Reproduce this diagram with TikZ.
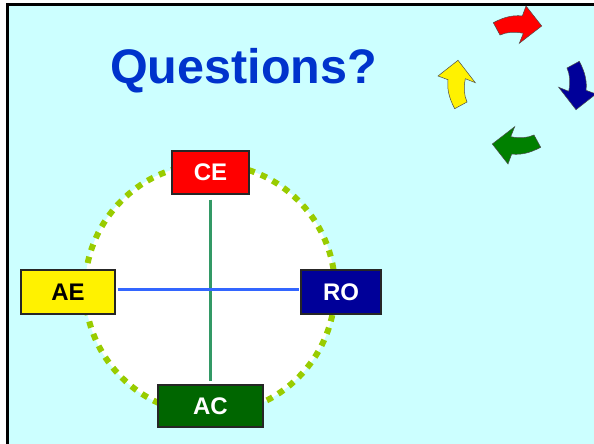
\documentclass[tikz,border=0pt]{standalone}
\usepackage{fontspec}
\setmainfont{Liberation Sans}
\definecolor{bgcyan}{RGB}{204,255,255}
\definecolor{titleblue}{RGB}{0,51,204}
\definecolor{dotgreen}{RGB}{153,204,0}
\definecolor{navy}{RGB}{0,0,153}
\definecolor{dkgreen}{RGB}{0,102,0}
\definecolor{argreen}{RGB}{0,128,0}
\definecolor{vline}{RGB}{51,153,102}
\definecolor{hline}{RGB}{51,102,255}
\begin{document}
\begin{tikzpicture}[x=1pt,y=-1pt,
  boxed/.style={draw=black!85,line width=1.2pt,inner sep=0pt,font=\fontsize{24}{28}\selectfont\bfseries},
  cyclearrow/.style={draw=black!70,line width=0.5pt,line join=miter}]
\useasboundingbox (0,0) rectangle (594,444);
\fill[white] (0,0) rectangle (594,444);
\fill[bgcyan] (7.5,4.5) rectangle (594,444);
\draw[black,line width=2.5pt] (7.5,444) -- (7.5,4.5) -- (594,4.5);
% title
\node[font=\fontsize{48.5}{56}\selectfont\bfseries,text=titleblue,anchor=base] (title) at (243.5,84) {Questions?};
% circle
\coordinate (O) at (210,289);
\fill[white] (O) circle (125);
\draw[dotgreen,line width=6pt,dash pattern=on 6.5pt off 6.59pt] (O) circle (125);
% boxes
\node[boxed,fill=red,text=white,minimum width=77pt,minimum height=43pt] (CE) at (210.5,172.5) {CE};
\node[boxed,fill=yellow,text=black,minimum width=94pt,minimum height=44pt] (AE) at (68,292) {AE};
\node[boxed,fill=navy,text=white,minimum width=80pt,minimum height=44pt] (RO) at (341,292) {RO};
\node[boxed,fill=dkgreen,text=white,minimum width=105pt,minimum height=42pt] (AC) at (210.5,406) {AC};
% axes
\draw[vline,line width=3pt,shorten <=5pt,shorten >=3pt] (CE.south -| O) -- (AC.north -| O);
\draw[hline,line width=3pt,shorten <=2pt,shorten >=1pt] (AE.east |- O) -- (RO.west |- O);
% cycle arrows
\coordinate (C) at (517,85);
\foreach \ang/\col in {0/red, -90/navy, 180/argreen, 90/yellow}{
  \begin{scope}[shift={(C)},rotate=\ang]
    \draw[cyclearrow,fill=\col] (-23.7,-62.3) .. controls (-12,-68.5) and (-3,-70) .. (5.3,-69)
      -- (9,-79) -- (24.7,-59) -- (2.3,-41.7) -- (6.3,-51.7)
      .. controls (-3,-53.5) and (-10,-53) .. (-17,-50) -- cycle;
  \end{scope}
}
\end{tikzpicture}
\end{document}
